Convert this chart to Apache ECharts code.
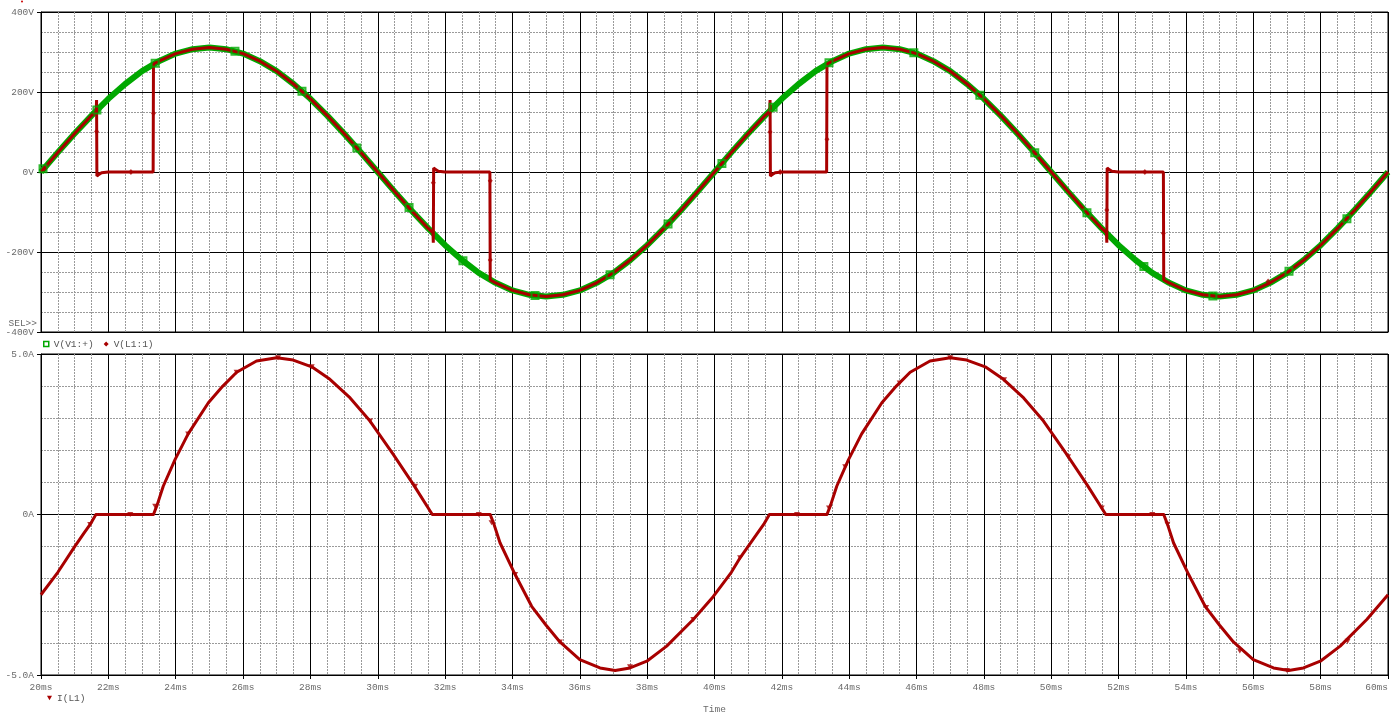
<!DOCTYPE html>
<html><head><meta charset="utf-8">
<script src="https://cdn.jsdelivr.net/npm/echarts@6/dist/echarts.min.js"></script>
<style>html,body{margin:0;padding:0;background:#fff}#c{width:1392px;height:712px}</style>
</head><body><div id="c"></div>
<script>
// ---------- DATA ----------
// Source voltage V(V1:+)  [ms] / [V]
const srcTime = [20.0,20.5,21.0,21.5,22.0,22.5,23.0,23.5,24.0,24.5,25.0,25.5,26.0,26.5,27.0,27.5,28.0,28.5,29.0,29.5,
  30.0,30.5,31.0,31.5,32.0,32.5,33.0,33.5,34.0,34.5,35.0,35.5,36.0,36.5,37.0,37.5,38.0,38.5,39.0,39.5,
  40.0,40.5,41.0,41.5,42.0,42.5,43.0,43.5,44.0,44.5,45.0,45.5,46.0,46.5,47.0,47.5,48.0,48.5,49.0,49.5,
  50.0,50.5,51.0,51.5,52.0,52.5,53.0,53.5,54.0,54.5,55.0,55.5,56.0,56.5,57.0,57.5,58.0,58.5,59.0,59.5,60.0];
const srcVolt = [0,49,96,141,183,220,252,277,296,307,311,307,296,277,252,220,183,141,96,49,
  0,-49,-96,-141,-183,-220,-252,-277,-296,-307,-311,-307,-296,-277,-252,-220,-183,-141,-96,-49,
  0,49,96,141,183,220,252,277,296,307,311,307,296,277,252,220,183,141,96,49,
  0,-49,-96,-141,-183,-220,-252,-277,-296,-307,-311,-307,-296,-277,-252,-220,-183,-141,-96,-49,0];

// Load voltage V(L1:1)
const loadTime = [20.0,20.5,21.0,21.5,21.64,21.65,21.66,21.72,21.8,22.0,23.33,23.34,23.5,24.0,24.5,25.0,25.5,26.0,26.5,27.0,27.5,28.0,28.5,29.0,29.5,
  30.0,30.5,31.0,31.5,31.64,31.65,31.66,31.72,31.8,32.0,33.33,33.34,33.5,34.0,34.5,35.0,35.5,36.0,36.5,37.0,37.5,38.0,38.5,39.0,39.5,
  40.0,40.5,41.0,41.5,41.64,41.65,41.66,41.72,41.8,42.0,43.33,43.34,43.5,44.0,44.5,45.0,45.5,46.0,46.5,47.0,47.5,48.0,48.5,49.0,49.5,
  50.0,50.5,51.0,51.5,51.64,51.65,51.66,51.72,51.8,52.0,53.33,53.34,53.5,54.0,54.5,55.0,55.5,56.0,56.5,57.0,57.5,58.0,58.5,59.0,59.5,60.0];
const loadVolt = [0,49,96,141,152,180,-10,-6,-2,0,0,270,277,296,307,311,307,296,277,252,220,183,141,96,49,
  0,-49,-96,-141,-152,-177,10,6,2,0,0,-270,-277,-296,-307,-311,-307,-296,-277,-252,-220,-183,-141,-96,-49,
  0,49,96,141,152,180,-10,-6,-2,0,0,270,277,296,307,311,307,296,277,252,220,183,141,96,49,
  0,-49,-96,-141,-152,-177,10,6,2,0,0,-270,-277,-296,-307,-311,-307,-296,-277,-252,-220,-183,-141,-96,-49,0];

// Inductor current I(L1)  [ms] / [A]
const curTime = [20.0,20.5,21.0,21.25,21.46,21.63,22.65,23.34,23.45,23.63,23.98,24.37,24.97,25.4,25.81,26.4,27.0,27.49,28.04,28.58,29.18,29.77,30.46,31.06,31.62,
  33.0,33.34,33.45,33.63,34.08,34.57,35.0,35.41,36.0,36.6,37.05,37.49,37.99,38.58,39.37,39.96,40.5,40.76,41.25,41.46,41.63,
  42.65,43.34,43.45,43.63,43.98,44.37,44.97,45.4,45.81,46.4,47.0,47.49,48.04,48.58,49.18,49.77,50.46,51.06,51.62,
  53.0,53.34,53.45,53.63,54.08,54.57,55.0,55.41,56.0,56.6,57.05,57.49,57.99,58.58,59.37,60.0];
const curAmp = [-2.5,-1.8,-1.0,-0.62,-0.31,0,0,0,0.3,0.88,1.71,2.51,3.48,4.0,4.43,4.78,4.88,4.81,4.6,4.21,3.63,2.91,1.87,0.93,0,
  0,0,-0.3,-0.88,-1.87,-2.86,-3.45,-3.97,-4.52,-4.78,-4.86,-4.78,-4.57,-4.1,-3.27,-2.56,-1.8,-1.35,-0.62,-0.31,0,
  0,0,0.3,0.88,1.71,2.51,3.48,4.0,4.43,4.78,4.88,4.81,4.6,4.21,3.63,2.91,1.87,0.93,0,
  0,0,-0.3,-0.88,-1.87,-2.86,-3.45,-3.97,-4.52,-4.78,-4.86,-4.78,-4.57,-4.1,-3.27,-2.5];

// Trace markers (PSpice symbols)
const srcMarkT = [20.06,21.66,23.39,25.76,27.75,29.38,30.93,32.53,34.67,36.90,38.62,40.22,41.74,43.40,45.92,47.88,49.51,51.06,52.75,54.80,57.06,58.78];
const srcMarkV = [8,155,272,302,202,60,-89,-222,-309,-257,-130,21,162,273,298,192,48,-102,-236,-310,-248,-117];
const loadMarkT = [20.1,21.65,22.67,23.34,31.65,33.34,33.34,41.65,41.95,43.34,51.65,52.78,53.33,56.44];
const loadMarkV = [9,101,0,147,-27,-22,-220,100,0,82,-95,0,-153,-274];
const curMarkT = [21.46,22.65,23.39,24.37,25.81,27.04,28.04,29.77,31.11,33.0,33.38,34.08,35.41,37.49,39.37,40.76,
  42.45,43.4,43.88,45.5,47.0,48.6,50.5,51.5,53.0,53.45,54.6,55.6,57.0,58.8];
const curMarkA = [-0.31,0,0.26,2.51,4.43,4.88,4.6,2.91,0.88,0,-0.26,-1.87,-3.97,-4.74,-3.27,-1.35,
  0,0.2,1.49,4.1,4.88,4.2,1.8,0.2,0,-0.3,-2.9,-4.25,-4.86,-3.95];

// Axis tick label units
const xUnit = 'ms', vUnit = 'V', aUnit = 'A';
const legendTop = ['V(V1:+)', 'V(L1:1)'];
const legendBottom = ['I(L1)'];

// ---------- CHART ----------
const zip = (a, b) => a.map((t, i) => [t, b[i]]);
const FONT = 'Liberation Mono';
const GREEN = '#00a800', RED = '#a80000';
const lab = {color: '#6a6a6a', fontFamily: FONT, fontSize: 9.5};
const major = {show: true, lineStyle: {color: '#000', width: 1}};
const minor = {show: true, lineStyle: {color: '#9a9a9a', width: 1, type: [2, 1]}};

function xAx(idx, showLab) {
  return {
    type: 'value', gridIndex: idx, min: 20, max: 60, interval: 2,
    axisLine: {show: true, onZero: false, lineStyle: {color: '#000'}},
    axisTick: {show: showLab, length: 4, lineStyle: {color: '#000'}},
    axisLabel: {show: showLab, margin: 7, formatter: v => v + xUnit, alignMaxLabel: 'right', ...lab},
    splitLine: major, minorTick: {show: false, splitNumber: 4}, minorSplitLine: minor,
    name: showLab ? 'Time' : '', nameLocation: 'middle', nameGap: 29, nameTextStyle: lab
  };
}

const option = {
  animation: false,
  backgroundColor: '#fff',
  grid: [
    {left: 41, right: 4, top: 12, height: 320, show: true, borderColor: '#000', borderWidth: 1,
      containLabel: false, outerBoundsMode: 'none'},
    {left: 41, right: 4, top: 354, height: 321, show: true, borderColor: '#000', borderWidth: 1,
      containLabel: false, outerBoundsMode: 'none'}
  ],
  xAxis: [xAx(0, false), xAx(1, true)],
  yAxis: [
    {type: 'value', gridIndex: 0, min: -400, max: 400, interval: 200,
      axisLine: {show: true, lineStyle: {color: '#000'}},
      axisTick: {show: true, length: 4, lineStyle: {color: '#000'}},
      axisLabel: {margin: 7, formatter: v => v + vUnit, ...lab},
      splitLine: major, minorTick: {show: false, splitNumber: 4}, minorSplitLine: minor},
    {type: 'value', gridIndex: 1, min: -5, max: 5, interval: 5,
      axisLine: {show: true, lineStyle: {color: '#000'}},
      axisTick: {show: true, length: 4, lineStyle: {color: '#000'}},
      axisLabel: {margin: 7, formatter: v => (v === 0 ? '0' : v.toFixed(1)) + aUnit, ...lab},
      splitLine: major, minorTick: {show: false, splitNumber: 5}, minorSplitLine: minor}
  ],
  legend: [
    {left: 43, top: 339, padding: 0, itemWidth: 5, itemHeight: 5, itemGap: 10, selectedMode: false,
      textStyle: {color: '#555', fontFamily: FONT, fontSize: 9.5},
      data: [
        {name: legendTop[0], icon: 'rect', itemStyle: {color: 'rgba(0,0,0,0)', borderColor: GREEN, borderWidth: 1.5}},
        {name: legendTop[1], icon: 'diamond', itemStyle: {color: RED}}
      ]},
    {left: 47, top: 693, padding: 0, itemWidth: 5, itemHeight: 5, selectedMode: false,
      textStyle: {color: '#555', fontFamily: FONT, fontSize: 9.5},
      data: [{name: legendBottom[0], icon: 'path://M0,0L10,0L5,9Z', itemStyle: {color: RED}}]}
  ],
  graphic: [
    {type: 'text', x: 37, y: 323, style: {text: 'SEL>>', fill: '#6a6a6a', font: '9.5px "Liberation Mono"', align: 'right', verticalAlign: 'middle'}},
    {type: 'circle', shape: {cx: 22, cy: 1.5, r: 1}, style: {fill: '#cc0000'}}
  ],
  series: [
    {name: legendTop[0], type: 'line', xAxisIndex: 0, yAxisIndex: 0, data: zip(srcTime, srcVolt),
      symbol: 'none', z: 2, itemStyle: {color: GREEN},
      lineStyle: {color: GREEN, width: 6, join: 'round'}},
    {name: legendTop[1], type: 'line', xAxisIndex: 0, yAxisIndex: 0, data: zip(loadTime, loadVolt),
      symbol: 'none', z: 3, itemStyle: {color: RED},
      lineStyle: {color: RED, width: 3, join: 'bevel'}},
    {name: 'srcMarks', type: 'scatter', xAxisIndex: 0, yAxisIndex: 0, data: zip(srcMarkT, srcMarkV),
      symbol: 'rect', symbolSize: 7, z: 4,
      itemStyle: {color: 'rgba(0,0,0,0)', borderColor: GREEN, borderWidth: 2}},
    {name: 'loadMarks', type: 'scatter', xAxisIndex: 0, yAxisIndex: 0, data: zip(loadMarkT, loadMarkV),
      symbol: 'diamond', symbolSize: [5, 6], z: 5, itemStyle: {color: RED}},
    {name: legendBottom[0], type: 'line', xAxisIndex: 1, yAxisIndex: 1, data: zip(curTime, curAmp),
      symbol: 'none', z: 3, itemStyle: {color: RED},
      lineStyle: {color: RED, width: 3, join: 'round'}},
    {name: 'curMarks', type: 'scatter', xAxisIndex: 1, yAxisIndex: 1, data: zip(curMarkT, curMarkA),
      symbol: 'path://M0,0L10,0L5,9Z', symbolSize: [6, 5], z: 5, itemStyle: {color: RED}}
  ]
};
const chart = echarts.init(document.getElementById('c'), null, {renderer: 'canvas'});
chart.setOption(option);
</script>
</body></html>
